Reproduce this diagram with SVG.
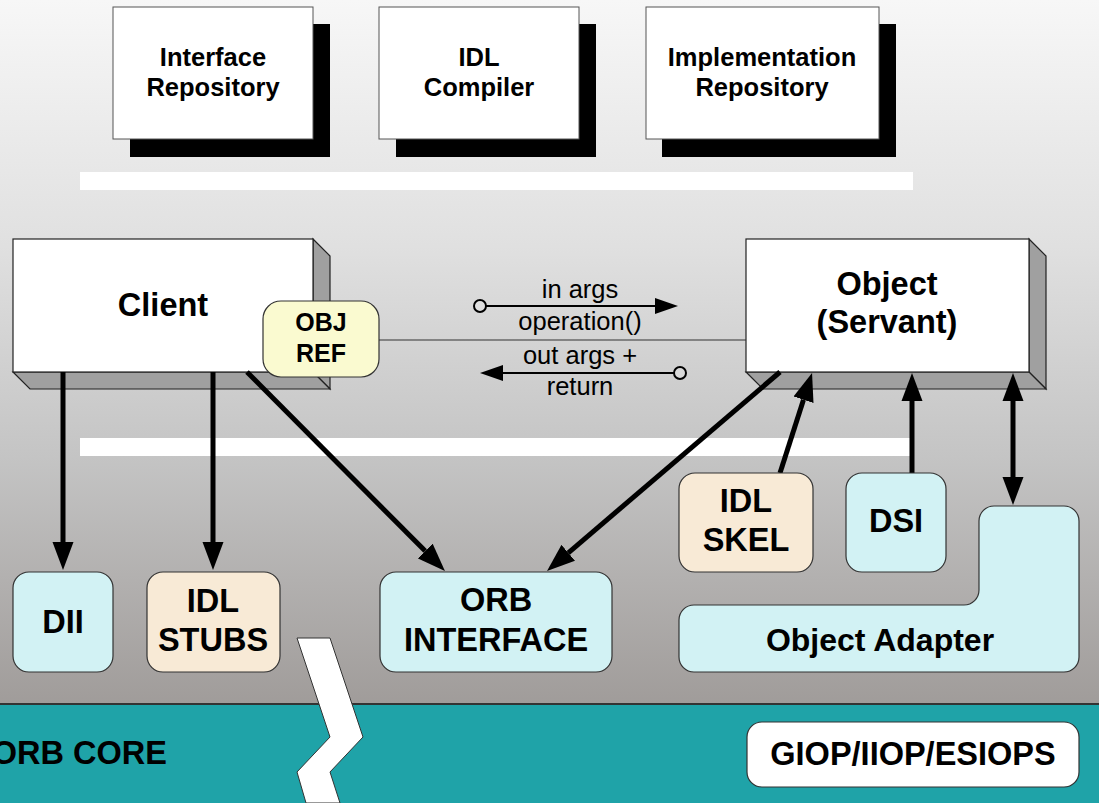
<svg xmlns="http://www.w3.org/2000/svg" width="1099" height="803" viewBox="0 0 1099 803">
<defs>
<linearGradient id="bg" x1="0" y1="0" x2="0" y2="704" gradientUnits="userSpaceOnUse">
<stop offset="0" stop-color="#f7f7f7"/>
<stop offset="0.35" stop-color="#e0e0e0"/>
<stop offset="0.65" stop-color="#c4c4c4"/>
<stop offset="1" stop-color="#a09c9a"/>
</linearGradient>
<marker id="ah" markerUnits="userSpaceOnUse" markerWidth="28" markerHeight="22" refX="0" refY="10.5" orient="auto-start-reverse" viewBox="0 0 28 21">
<path d="M0,0 L28,10.5 L0,21 Z" fill="#000"/>
</marker>
</defs>
<style>
.t{font-family:"Liberation Sans",Arial,sans-serif;fill:#000;text-anchor:middle}
.b{font-weight:bold}
.L{font-size:32.5px}
.top{fill:#fff;stroke:#555;stroke-width:1}
.sh{fill:#000}
.front{fill:#fff;stroke:#222;stroke-width:1.2}
.side{fill:#a0a0a0;stroke:#222;stroke-width:1.2}
.cyan{fill:#d2f2f4;stroke:#333;stroke-width:1.2}
.tan{fill:#f8ead6;stroke:#333;stroke-width:1.2}
.yel{fill:#fafad0;stroke:#333;stroke-width:1.2}
.con{stroke:#000;stroke-width:5;fill:none}
.thin{stroke:#000;stroke-width:2;fill:none}
</style>
<rect x="0" y="0" width="1099" height="704" fill="url(#bg)"/>
<rect x="0" y="704" width="1099" height="99" fill="#1fa3a8"/>
<line x1="0" y1="704" x2="1099" y2="704" stroke="#333" stroke-width="2"/>
<rect x="80" y="172" width="833" height="18" fill="#fff"/>
<rect x="80" y="438" width="830" height="18" fill="#fff"/>

<g id="interface-repository">
<rect class="sh" x="130" y="24" width="200" height="133"/>
<rect class="top" x="113" y="7" width="200" height="132"/>
<text class="t b" x="213" y="66" font-size="25.5">Interface</text>
<text class="t b" x="213" y="96" font-size="25.5">Repository</text>
</g>
<g id="idl-compiler">
<rect class="sh" x="396" y="24" width="200" height="133"/>
<rect class="top" x="379" y="7" width="200" height="132"/>
<text class="t b" x="479" y="66" font-size="25.5">IDL</text>
<text class="t b" x="479" y="96" font-size="25.5">Compiler</text>
</g>
<g id="implementation-repository">
<rect class="sh" x="662" y="24" width="234" height="133"/>
<rect class="top" x="646" y="7" width="233" height="132"/>
<text class="t b" x="762" y="66" font-size="25.5">Implementation</text>
<text class="t b" x="762" y="96" font-size="25.5">Repository</text>
</g>

<g id="client">
<polygon class="side" points="313,239 330,256 330,389 313,372"/>
<polygon class="side" points="13,372 313,372 330,389 30,389"/>
<rect class="front" x="13" y="239" width="300" height="133"/>
<text class="t b L" x="163" y="316">Client</text>
</g>
<g id="object">
<polygon class="side" points="1029,239 1046,256 1046,389 1029,372"/>
<polygon class="side" points="746,372 1029,372 1046,389 763,389"/>
<rect class="front" x="746" y="239" width="283" height="133"/>
<text class="t b L" x="887" y="295">Object</text>
<text class="t b L" x="887" y="333">(Servant)</text>
</g>

<g id="connectors">
<line x1="379" y1="340" x2="746" y2="340" stroke="#333" stroke-width="1.2"/>
<circle cx="480" cy="306" r="6" fill="#e0e0e0" stroke="#000" stroke-width="2"/>
<line class="thin" x1="486" y1="306" x2="657" y2="306"/>
<polygon points="655,298 678,306 655,314" fill="#000"/>
<circle cx="680" cy="373" r="6" fill="#d8d8d8" stroke="#000" stroke-width="2"/>
<line class="thin" x1="674" y1="373" x2="501" y2="373"/>
<polygon points="503,365 480,373 503,381" fill="#000"/>
<line class="con" x1="63" y1="372" x2="63" y2="542" marker-end="url(#ah)"/>
<line class="con" x1="213" y1="372" x2="213" y2="542" marker-end="url(#ah)"/>
<line class="con" x1="247" y1="372" x2="425.2" y2="551.1" marker-end="url(#ah)"/>
<line class="con" x1="780" y1="372" x2="568.3" y2="552.8" marker-end="url(#ah)"/>
<line class="con" x1="780" y1="473" x2="803.5" y2="399.7" marker-end="url(#ah)"/>
<line class="con" x1="912" y1="473" x2="912" y2="401" marker-end="url(#ah)"/>
<line class="con" x1="1013" y1="401" x2="1013" y2="477" marker-start="url(#ah)" marker-end="url(#ah)"/>
</g>
<g id="labels">
<text class="t" x="580" y="298" font-size="25.5">in args</text>
<text class="t" x="580" y="330" font-size="25.5">operation()</text>
<text class="t" x="580" y="364" font-size="25.5">out args +</text>
<text class="t" x="580" y="395" font-size="25.5">return</text>
</g>

<g id="obj-ref">
<rect class="yel" x="263" y="301" width="116" height="76" rx="18"/>
<text class="t b" x="321" y="331" font-size="25">OBJ</text>
<text class="t b" x="321" y="362" font-size="25">REF</text>
</g>

<g id="dii">
<rect class="cyan" x="13" y="572" width="100" height="100" rx="16"/>
<text class="t b L" x="63" y="633">DII</text>
</g>
<g id="idl-stubs">
<rect class="tan" x="147" y="572" width="133" height="100" rx="16"/>
<text class="t b L" x="213" y="612">IDL</text>
<text class="t b L" x="213" y="651">STUBS</text>
</g>
<g id="orb-interface">
<rect class="cyan" x="380" y="572" width="232" height="100" rx="16"/>
<text class="t b L" x="496" y="611">ORB</text>
<text class="t b L" x="496" y="651">INTERFACE</text>
</g>
<g id="idl-skel">
<rect class="tan" x="679" y="473" width="134" height="99" rx="16"/>
<text class="t b L" x="746" y="512">IDL</text>
<text class="t b L" x="746" y="551">SKEL</text>
</g>
<g id="dsi">
<rect class="cyan" x="846" y="473" width="100" height="99" rx="16"/>
<text class="t b L" x="896" y="532">DSI</text>
</g>
<g id="object-adapter">
<path class="cyan" d="M694,605 H964 A15,15 0 0 0 979,590 V521 A15,15 0 0 1 994,506 H1064 A15,15 0 0 1 1079,521 V657 A15,15 0 0 1 1064,672 H694 A15,15 0 0 1 679,657 V620 A15,15 0 0 1 694,605 Z"/>
<text class="t b" x="880" y="651" font-size="32">Object Adapter</text>
</g>

<g id="orb-core">
<text class="t b L" x="167" y="764" style="text-anchor:end">ORB CORE</text>
</g>
<g id="giop">
<rect x="747" y="722" width="332" height="65" rx="15" fill="#fff" stroke="#333" stroke-width="1.2"/>
<text class="t b L" x="913" y="765">GIOP/IIOP/ESIOPS</text>
</g>

<polygon points="297,638 330,638 363,737 330,772 340,803 306,803 297,772 330,737" fill="#fff" stroke="#333" stroke-width="1"/>
</svg>
